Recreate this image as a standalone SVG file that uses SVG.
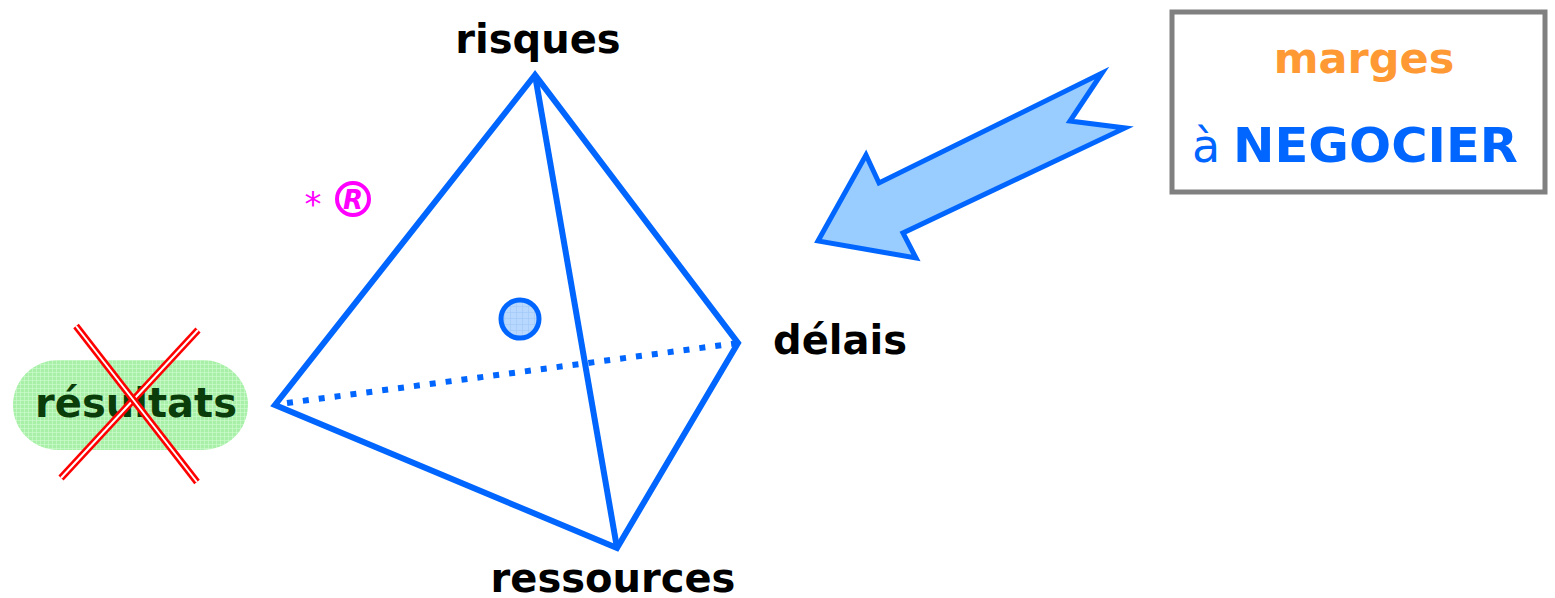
<svg xmlns="http://www.w3.org/2000/svg" width="1555" height="598" viewBox="0 0 1555 598">
<style>
.lbl{font-family:"Comic Sans MS","DejaVu Sans",sans-serif;font-weight:bold;font-size:40px;fill:#000;}
.edge{stroke:#0066ff;stroke-width:6;fill:none;stroke-linecap:butt;stroke-linejoin:miter;stroke-miterlimit:10;}
</style>
<defs>
<pattern id="grid" width="6" height="6" patternUnits="userSpaceOnUse">
<rect width="6" height="6" fill="#b8d8ff"/>
<path d="M0 0H6M0 0V6" stroke="#9cc4f5" stroke-width="1"/>
</pattern>
<pattern id="ggrid" width="4" height="4" patternUnits="userSpaceOnUse">
<rect width="4" height="4" fill="#a8f0a8"/>
<path d="M0 0H4M0 0V4" stroke="#d8fcd8" stroke-width="1"/>
</pattern>
</defs>
<g id="connectors">
<path class="edge" d="M535 75 L275 405 L617 548 L738 343 Z"/>
<path class="edge" d="M535 75 L617 548"/>
<line class="edge" x1="287" y1="403" x2="738" y2="343" stroke-dasharray="6 10"/>
</g>
<g id="center-point">
<circle cx="520" cy="319" r="19" fill="url(#grid)" stroke="#0066ff" stroke-width="5"/>
</g>
<g id="risques"><text class="lbl" x="538" y="53" text-anchor="middle">risques</text></g>
<g id="delais"><text class="lbl" x="773" y="354">délais</text></g>
<g id="ressources"><text class="lbl" x="613" y="592" text-anchor="middle">ressources</text></g>
<g id="resultats">
<rect x="13" y="360" width="235" height="90" rx="45" fill="url(#ggrid)"/>
<text class="lbl" x="136" y="417" text-anchor="middle" style="fill:#0b3d0b">résultats</text>
<g stroke-linecap="butt">
<line x1="61" y1="478" x2="198" y2="330" stroke="#ff0000" stroke-width="7"/>
<line x1="61" y1="478" x2="198" y2="330" stroke="#ffffff" stroke-width="2"/>
<line x1="76" y1="326" x2="197" y2="482" stroke="#ff0000" stroke-width="7"/>
<line x1="76" y1="326" x2="197" y2="482" stroke="#ffffff" stroke-width="2"/>
</g>
</g>
<g id="registered">
<text x="313" y="216" font-family="Comic Sans MS,DejaVu Sans,sans-serif" font-size="34" fill="#ff00ff" text-anchor="middle">*</text>
<circle cx="353" cy="199" r="16" fill="none" stroke="#ff00ff" stroke-width="4"/>
<text x="353" y="209" font-family="Comic Sans MS,DejaVu Sans,sans-serif" font-weight="bold" font-style="italic" font-size="26" fill="#ff00ff" text-anchor="middle">R</text>
</g>
<g id="arrow">
<polygon points="1102,73 1070,121 1125,128 903,233 916,258 818,241 866,155 879,183" fill="#99ccff" stroke="#0066ff" stroke-width="5" stroke-linejoin="miter"/>
</g>
<g id="marges-box">
<rect x="1172" y="12" width="373" height="180" fill="#fff" stroke="#808080" stroke-width="5"/>
<text class="lbl" x="1364" y="73" text-anchor="middle" style="fill:#ff9933;font-size:43px">marges</text>
<text x="1192" y="162" font-family="Comic Sans MS,DejaVu Sans,sans-serif" font-size="46" fill="#0066ff">à</text>
<text class="lbl" x="1233" y="162" style="fill:#0066ff;font-size:48px" textLength="285" lengthAdjust="spacingAndGlyphs">NEGOCIER</text>
</g>
</svg>
